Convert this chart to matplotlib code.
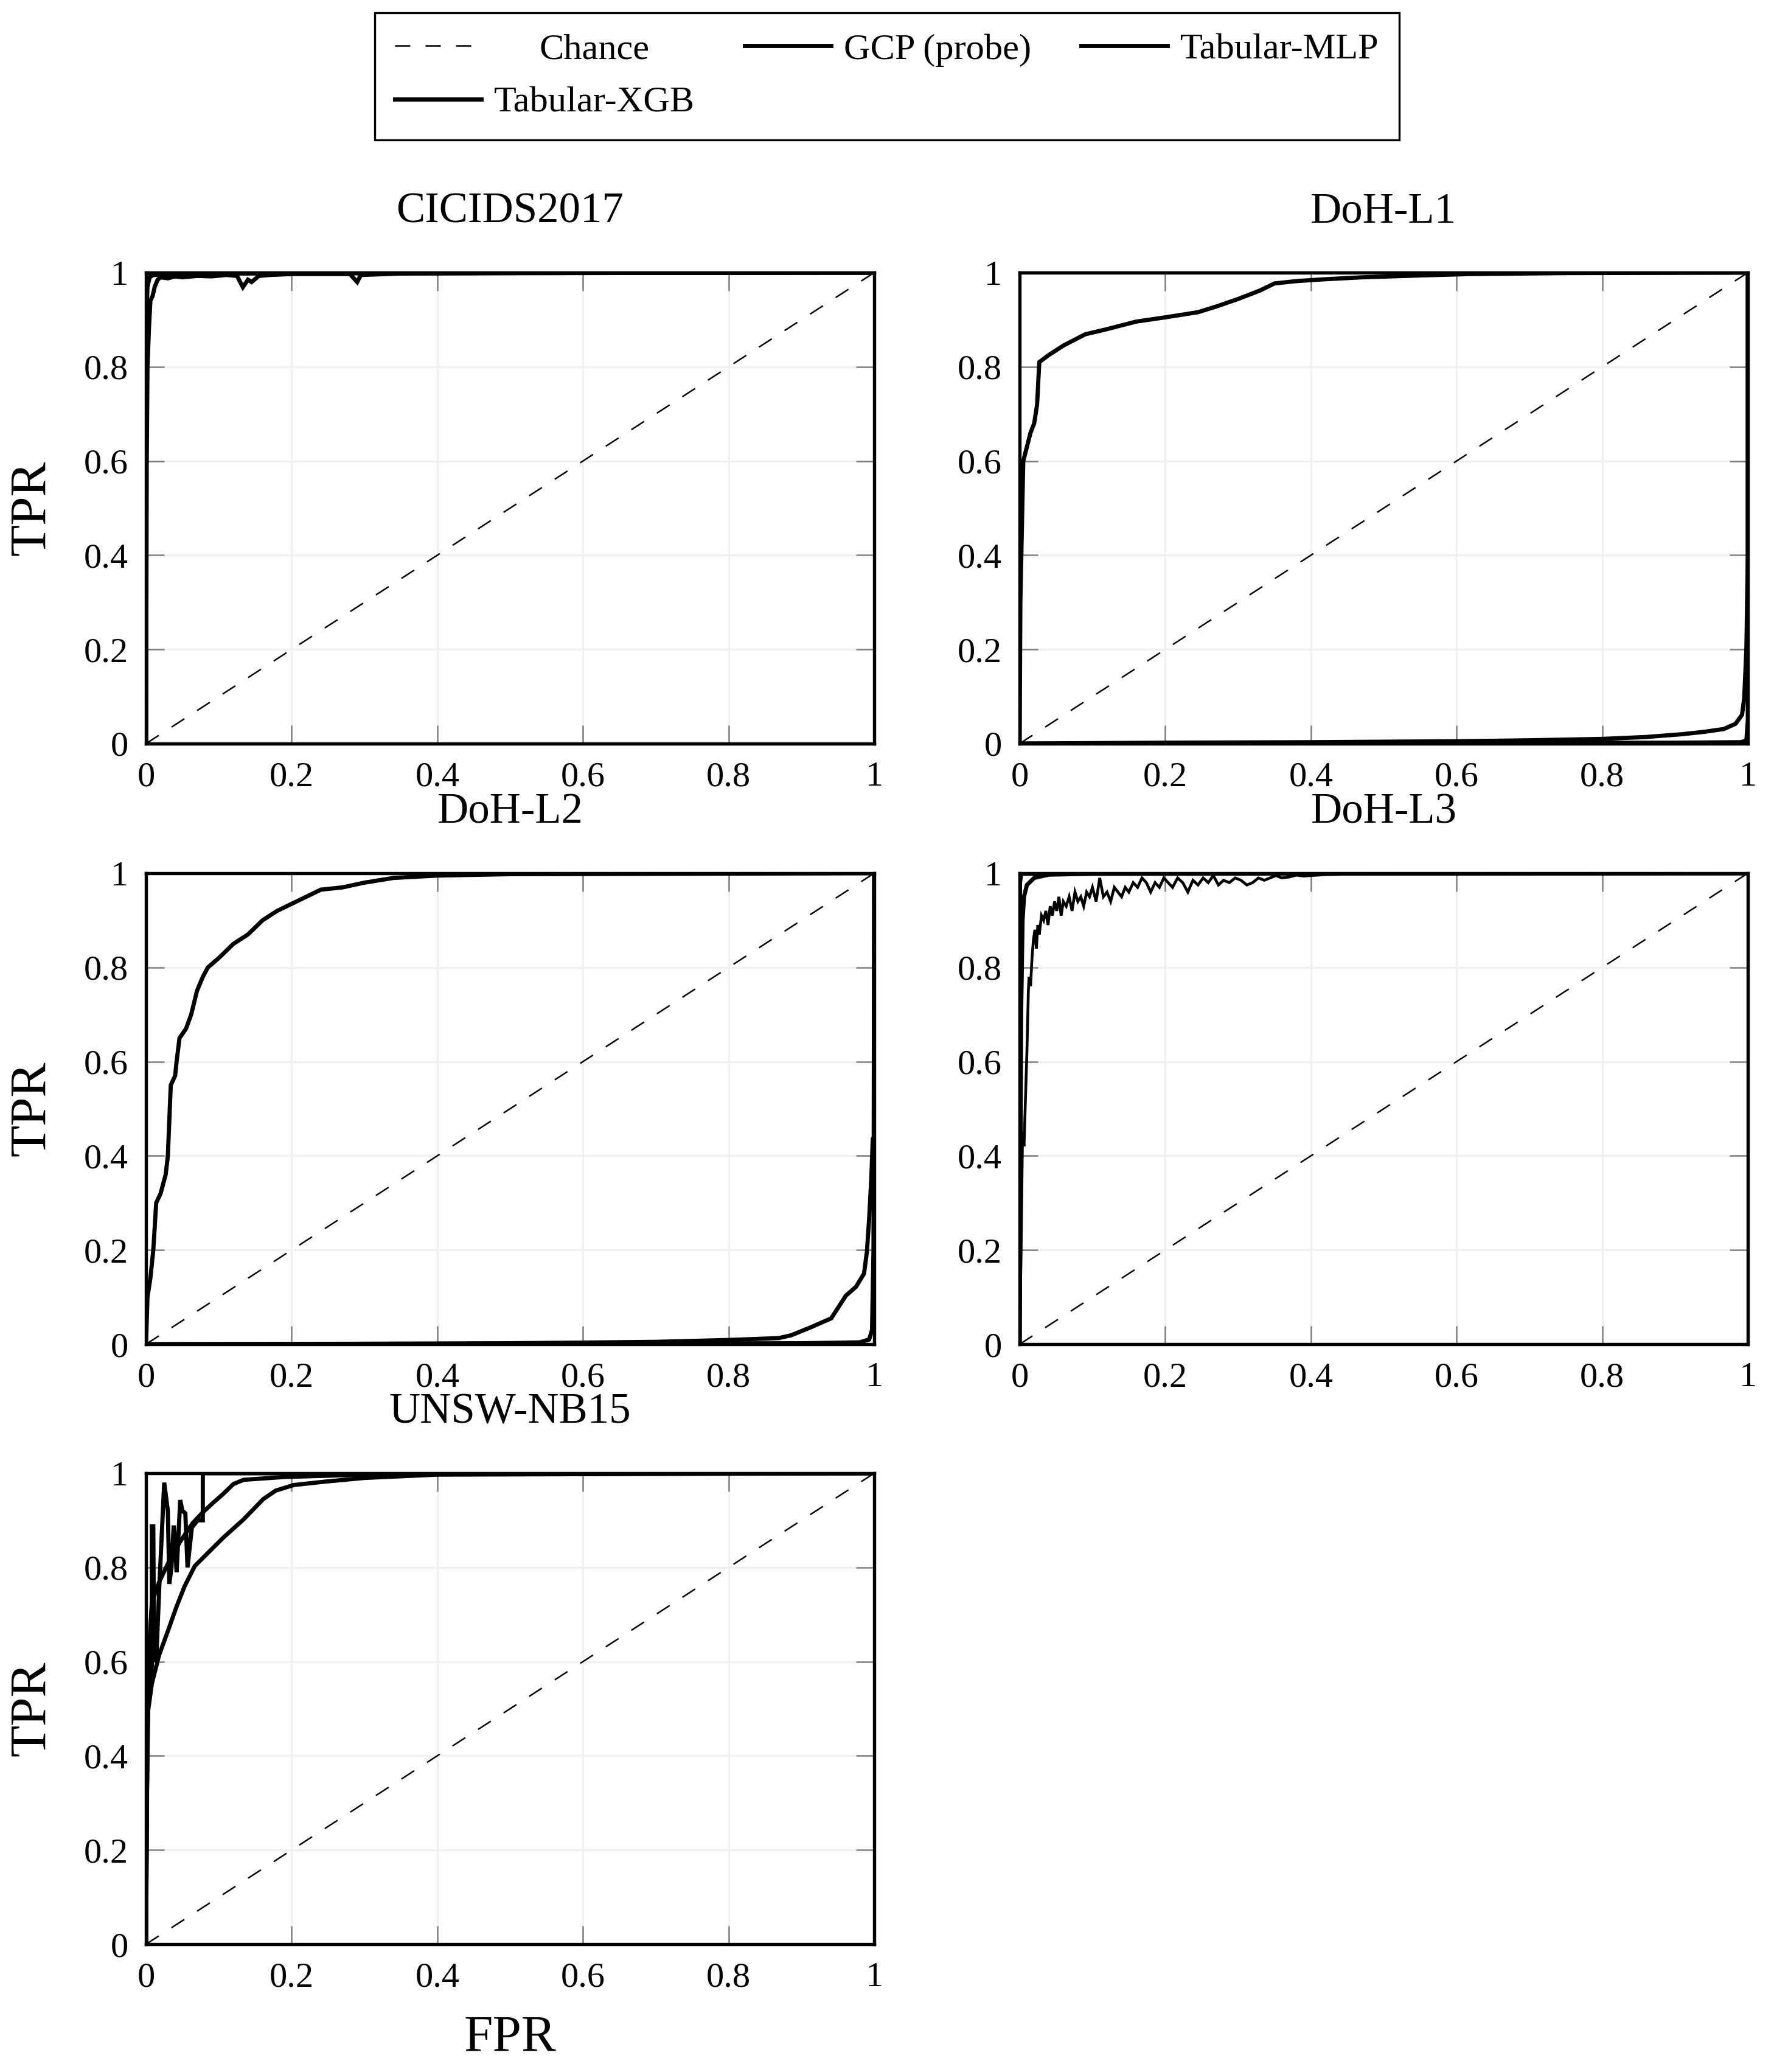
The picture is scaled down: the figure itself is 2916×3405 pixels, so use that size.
import matplotlib
matplotlib.use("Agg")
import matplotlib.pyplot as plt

plt.rcParams["font.family"] = ["Liberation Serif", "DejaVu Serif"]

# ROC points (FPR, TPR)
model_names = ["GCP (probe)", "Tabular-MLP", "Tabular-XGB"]
tick_vals = [0, 0.2, 0.4, 0.6, 0.8, 1.0]
tick_labels = ["0", "0.2", "0.4", "0.6", "0.8", "1"]

# CICIDS2017
cic_gcp_fpr = [0, 0.001, 0.002, 0.004, 0.006, 0.009, 0.012, 0.016, 0.02, 0.03, 0.04, 0.05, 0.07,
               0.09, 0.11, 0.125, 0.133, 0.14, 0.145, 0.155, 0.17, 0.2, 0.28, 0.29, 0.295, 0.35, 0.5, 1.0]
cic_gcp_tpr = [0, 0.6, 0.8, 0.88, 0.94, 0.95, 0.97, 0.985, 0.99, 0.988, 0.992, 0.99, 0.993,
               0.992, 0.995, 0.993, 0.969, 0.985, 0.98, 0.993, 0.995, 0.997, 0.997, 0.98, 0.995, 0.998, 0.999, 1.0]
cic_mlp_fpr = [0, 0.0005, 0.002, 0.005, 0.01, 0.05, 1.0]
cic_mlp_tpr = [0, 0.9, 0.97, 0.99, 0.995, 0.998, 1.0]
cic_xgb_fpr = [0, 0.0002, 0.001, 1.0]
cic_xgb_tpr = [0, 0.99, 0.999, 1.0]

# DoH-L1
l1_gcp_fpr = [0, 0.001, 0.003, 0.005, 0.01, 0.015, 0.02, 0.024, 0.027, 0.04, 0.06, 0.09, 0.12, 0.16,
              0.2, 0.245, 0.27, 0.3, 0.33, 0.35, 0.38, 0.42, 0.47, 0.55, 0.62, 0.75, 1.0]
l1_gcp_tpr = [0, 0.3, 0.45, 0.6, 0.63, 0.66, 0.68, 0.72, 0.81, 0.825, 0.845, 0.869, 0.88, 0.896,
              0.905, 0.916, 0.928, 0.944, 0.962, 0.977, 0.982, 0.986, 0.99, 0.994, 0.997, 0.999, 1.0]
l1_mlp_fpr = [0, 0.2, 0.4, 0.6, 0.7, 0.8, 0.86, 0.91, 0.94, 0.967, 0.983, 0.992, 0.995, 0.998, 1.0, 1.0, 1.0]
l1_mlp_tpr = [0, 0.002, 0.003, 0.005, 0.007, 0.010, 0.014, 0.020, 0.025, 0.031, 0.042, 0.061, 0.096, 0.2, 0.4, 0.6, 1.0]
l1_xgb_fpr = [0, 0.5, 0.9, 0.99, 0.998, 1.0, 1.0]
l1_xgb_tpr = [0, 0.001, 0.002, 0.003, 0.006, 0.05, 1.0]

# DoH-L2
l2_gcp_fpr = [0, 0.002, 0.006, 0.01, 0.014, 0.02, 0.027, 0.03, 0.034, 0.04, 0.042, 0.046, 0.055, 0.062, 0.07,
              0.078, 0.085, 0.1, 0.12, 0.14, 0.16, 0.18, 0.2, 0.22, 0.24, 0.27, 0.3, 0.34, 0.4, 0.5, 1.0]
l2_gcp_tpr = [0, 0.1, 0.14, 0.2, 0.3, 0.32, 0.36, 0.4, 0.55, 0.57, 0.6, 0.65, 0.67, 0.7, 0.75,
              0.78, 0.8, 0.82, 0.85, 0.87, 0.9, 0.92, 0.935, 0.95, 0.965, 0.97, 0.98, 0.99, 0.995, 0.998, 1.0]
l2_mlp_fpr = [0, 0.3, 0.5, 0.7, 0.8, 0.869, 0.886, 0.913, 0.941, 0.961, 0.975, 0.986, 0.99, 0.993, 0.996,
              0.998, 1.0, 1.0]
l2_mlp_tpr = [0, 0.001, 0.002, 0.005, 0.009, 0.013, 0.019, 0.036, 0.055, 0.103, 0.122, 0.150, 0.197, 0.266,
              0.352, 0.436, 0.44, 1.0]
l2_xgb_fpr = [0, 0.5, 0.9, 0.98, 0.993, 0.997, 0.999, 1.0]
l2_xgb_tpr = [0, 0.001, 0.002, 0.004, 0.01, 0.03, 0.2, 1.0]

# DoH-L3
l3_gcp_fpr = [0, 0.002, 0.004, 0.006, 0.008, 0.010, 0.012, 0.013, 0.015, 0.017, 0.019, 0.021, 0.023, 0.025,
              0.027, 0.030, 0.033, 0.036, 0.039, 0.042, 0.045, 0.048, 0.051, 0.054, 0.057, 0.060, 0.064,
              0.068, 0.072, 0.076, 0.080, 0.084, 0.088, 0.092, 0.096, 0.100, 0.105, 0.110, 0.115, 0.120,
              0.125, 0.130, 0.135, 0.140, 0.145, 0.150, 0.156, 0.162, 0.168, 0.174, 0.180, 0.186, 0.192,
              0.198, 0.204, 0.210, 0.217, 0.224, 0.231, 0.238, 0.245, 0.252, 0.259, 0.266, 0.273, 0.280,
              0.288, 0.296, 0.304, 0.312, 0.320, 0.328, 0.336, 0.344, 0.352, 0.360, 0.370, 0.380, 0.390,
              0.400, 0.420, 0.450, 0.500, 0.600, 0.800, 1.0]
l3_gcp_tpr = [0.0, 0.2, 0.45, 0.42, 0.52, 0.62, 0.75, 0.78, 0.76, 0.82, 0.86, 0.88, 0.84, 0.89,
              0.87, 0.91, 0.90, 0.92, 0.89, 0.93, 0.91, 0.94, 0.92, 0.95, 0.91, 0.94, 0.93,
              0.95, 0.92, 0.96, 0.94, 0.95, 0.93, 0.96, 0.95, 0.97, 0.94, 0.99, 0.95, 0.96,
              0.94, 0.97, 0.96, 0.95, 0.97, 0.96, 0.98, 0.97, 0.99, 0.98, 0.96, 0.98, 0.97,
              0.99, 0.98, 0.97, 0.99, 0.98, 0.96, 0.985, 0.975, 0.99, 0.98, 0.995, 0.975, 0.985,
              0.98, 0.99, 0.985, 0.975, 0.98, 0.99, 0.985, 0.99, 0.995, 0.99, 0.992, 0.996, 0.994,
              0.995, 0.997, 0.998, 0.999, 1.0, 1.0, 1.0]
l3_mlp_fpr = [0, 0.001, 0.002, 0.004, 0.006, 0.01, 0.02, 0.04, 0.1, 1.0]
l3_mlp_tpr = [0, 0.3, 0.7, 0.9, 0.95, 0.975, 0.99, 0.997, 0.999, 1.0]
l3_xgb_fpr = [0, 0.0005, 0.002, 1.0]
l3_xgb_tpr = [0, 0.98, 0.999, 1.0]

# UNSW-NB15
unsw_gcp_fpr = [0, 0.002, 0.006, 0.008, 0.008, 0.01, 0.011, 0.014, 0.018, 0.025, 0.03, 0.032, 0.035, 0.038,
                0.04, 0.042, 0.047, 0.05, 0.054, 0.057, 0.063, 0.071, 0.078, 0.078, 1.0]
unsw_gcp_tpr = [0, 0.5, 0.56, 0.59, 0.887, 0.887, 0.62, 0.6, 0.75, 0.98, 0.92, 0.765, 0.8, 0.889,
                0.85, 0.79, 0.943, 0.92, 0.915, 0.80, 0.885, 0.90, 0.90, 1.0, 1.0]
unsw_mlp_fpr = [0, 0.002, 0.004, 0.008, 0.018, 0.031, 0.047, 0.064, 0.078, 0.092, 0.106, 0.12, 0.134,
                0.19, 0.3, 0.45, 1.0]
unsw_mlp_tpr = [0, 0.45, 0.62, 0.726, 0.769, 0.811, 0.855, 0.894, 0.917, 0.937, 0.956, 0.977, 0.986,
                0.992, 0.997, 0.999, 1.0]
unsw_xgb_fpr = [0, 0.001, 0.003, 0.008, 0.018, 0.031, 0.042, 0.053, 0.067, 0.078, 0.106, 0.134, 0.161,
                0.178, 0.203, 0.245, 0.30, 0.4, 1.0]
unsw_xgb_tpr = [0, 0.3, 0.497, 0.553, 0.614, 0.669, 0.717, 0.76, 0.803, 0.82, 0.863, 0.902, 0.945,
                0.963, 0.975, 0.982, 0.99, 0.997, 1.0]

panels = [
    ("CICIDS2017", [(cic_gcp_fpr, cic_gcp_tpr), (cic_mlp_fpr, cic_mlp_tpr), (cic_xgb_fpr, cic_xgb_tpr)]),
    ("DoH-L1", [(l1_gcp_fpr, l1_gcp_tpr), (l1_mlp_fpr, l1_mlp_tpr), (l1_xgb_fpr, l1_xgb_tpr)]),
    ("DoH-L2", [(l2_gcp_fpr, l2_gcp_tpr), (l2_mlp_fpr, l2_mlp_tpr), (l2_xgb_fpr, l2_xgb_tpr)]),
    ("DoH-L3", [(l3_gcp_fpr, l3_gcp_tpr), (l3_mlp_fpr, l3_mlp_tpr), (l3_xgb_fpr, l3_xgb_tpr)]),
    ("UNSW-NB15", [(unsw_gcp_fpr, unsw_gcp_tpr), (unsw_mlp_fpr, unsw_mlp_tpr), (unsw_xgb_fpr, unsw_xgb_tpr)]),
]

W, H = 2916, 3405
fig = plt.figure(figsize=(W / 300, H / 300), dpi=300)

# axes boxes in pixels: left, top
ax_w, ax_h = 1197, 774
boxes = [(240, 448), (1676, 448), (240, 1435), (1676, 1435), (240, 2421)]

handles = None
for i, (title, curves) in enumerate(panels):
    left, top = boxes[i]
    ax = fig.add_axes([left / W, 1 - (top + ax_h) / H, ax_w / W, ax_h / H])
    chance, = ax.plot([0, 1], [0, 1], color="black", lw=0.6, dashes=(10, 10), label="Chance")
    lines = [chance]
    for name, (fpr, tpr) in zip(model_names, curves):
        assert len(fpr) == len(tpr)
        lw = 1.1 if (title == "DoH-L3" and name == "GCP (probe)") else 1.65
        ln, = ax.plot(fpr, tpr, color="black", lw=lw, label=name, solid_joinstyle="miter")
        lines.append(ln)
    if handles is None:
        handles = lines
    ax.set_xlim(0, 1)
    ax.set_ylim(0, 1)
    ax.set_xticks(tick_vals)
    ax.set_xticklabels(tick_labels)
    ax.set_yticks(tick_vals)
    ax.set_yticklabels(tick_labels)
    ax.tick_params(direction="in", length=7.2, width=0.6, color="#808080", labelsize=14,
                   top=True, right=True, pad=7)
    ax.grid(True, color="#f0f0f0", lw=0.8)
    ax.set_axisbelow(True)
    for sp in ax.spines.values():
        sp.set_linewidth(1.3)
    ax.set_title(title, fontsize=17, y=1.129, pad=0, va="center")
    if i % 2 == 0:
        ax.set_ylabel("TPR", fontsize=20.5)
        ax.yaxis.set_label_coords(-0.156, 0.5)
        ax.yaxis.label.set_va("center")
    if i == 4:
        ax.set_xlabel("FPR", fontsize=20.5)
        ax.xaxis.set_label_coords(0.5, -0.2)
        ax.xaxis.label.set_va("center")

# column-major fill: Chance/XGB in col 1, GCP col 2, MLP col 3
order = [handles[0], handles[3], handles[1], handles[2]]
leg = fig.legend(order, [h.get_label() for h in order], loc="upper center",
                 bbox_to_anchor=(0.5, 1 - 21 / H), ncol=3, fontsize=14.5, frameon=True,
                 fancybox=False, edgecolor="black", framealpha=1, borderpad=0.55,
                 handlelength=2.35, handletextpad=0.35, columnspacing=1.35, labelspacing=0.53,
                 borderaxespad=0)
leg.get_frame().set_linewidth(0.8)

# centre "Chance" in its column like the original
fig.canvas.draw()
rend = fig.canvas.get_renderer()
texts = leg.get_texts()
w_chance = texts[0].get_window_extent(rend).width
w_xgb = texts[1].get_window_extent(rend).width
texts[0].set_x((w_xgb - w_chance) / 2)

fig.savefig("out.png", dpi=300)
